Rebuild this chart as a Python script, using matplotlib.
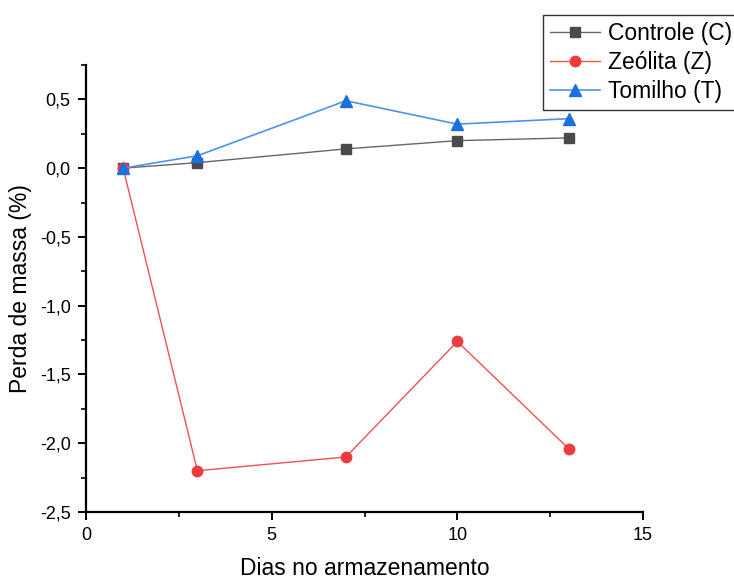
import matplotlib
matplotlib.use("Agg")
import matplotlib.pyplot as plt
from matplotlib.ticker import MultipleLocator, FuncFormatter

plt.rcParams['font.family'] = ['Liberation Sans', 'DejaVu Sans']

# Dias de armazenamento e perda de massa (%) por tratamento
dias = [1, 3, 7, 10, 13]
controle = [0.00, 0.04, 0.14, 0.20, 0.22]
zeolita = [0.00, -2.20, -2.10, -1.26, -2.04]
tomilho = [0.00, 0.09, 0.49, 0.32, 0.36]

series_labels = ["Controle (C)", "Zeólita (Z)", "Tomilho (T)"]

fig = plt.figure(figsize=(7.34, 5.81), dpi=100)
ax = fig.add_axes([86 / 734, 1 - 512 / 581, (643 - 86) / 734, (512 - 65) / 581])

l1, = ax.plot(dias, controle, color="#666666", lw=1.0, marker="s", ms=7,
              mfc="#4a4a4a", mec="#4a4a4a", label=series_labels[0])
l2, = ax.plot(dias, zeolita, color="#f05050", lw=1.0, marker="o", ms=7.5,
              mfc="#ee3b3b", mec="#ee3b3b", label=series_labels[1])
l3, = ax.plot(dias, tomilho, color="#4f92ea", lw=1.2, marker="^", ms=9,
              mfc="#1d6fdd", mec="#1d6fdd", label=series_labels[2])

ax.set_xlim(0, 15)
ax.set_ylim(-2.5, 0.75)
ax.xaxis.set_major_locator(MultipleLocator(5))
ax.xaxis.set_minor_locator(MultipleLocator(2.5))
ax.yaxis.set_major_locator(MultipleLocator(0.5))
ax.yaxis.set_minor_locator(MultipleLocator(0.25))
ax.yaxis.set_major_formatter(FuncFormatter(lambda v, p: f"{v:.1f}".replace(".", ",")))
ax.xaxis.set_major_formatter(FuncFormatter(lambda v, p: f"{v:g}"))

for side in ("top", "right"):
    ax.spines[side].set_visible(False)
for side in ("left", "bottom"):
    ax.spines[side].set_linewidth(1.6)

ax.tick_params(which="major", direction="out", length=6, width=1.4, labelsize=13, pad=5)
ax.tick_params(which="minor", direction="out", length=3.5, width=1.2)

ax.set_xlabel("Dias no armazenamento", fontsize=16.5, labelpad=9)
ax.set_ylabel("Perda de massa (%)", fontsize=16.5, labelpad=6)

leg = fig.legend(handles=[l1, l2, l3], loc="upper left",
                 bbox_to_anchor=(543 / 734, 1 - 15 / 581),
                 fontsize=16.5, frameon=True, fancybox=False, framealpha=1,
                 edgecolor="#333333", borderpad=0.3, labelspacing=0.27,
                 handlelength=2.2, handletextpad=0.35, borderaxespad=0)
leg.get_frame().set_linewidth(1.0)

fig.savefig("out.png", dpi=100)
